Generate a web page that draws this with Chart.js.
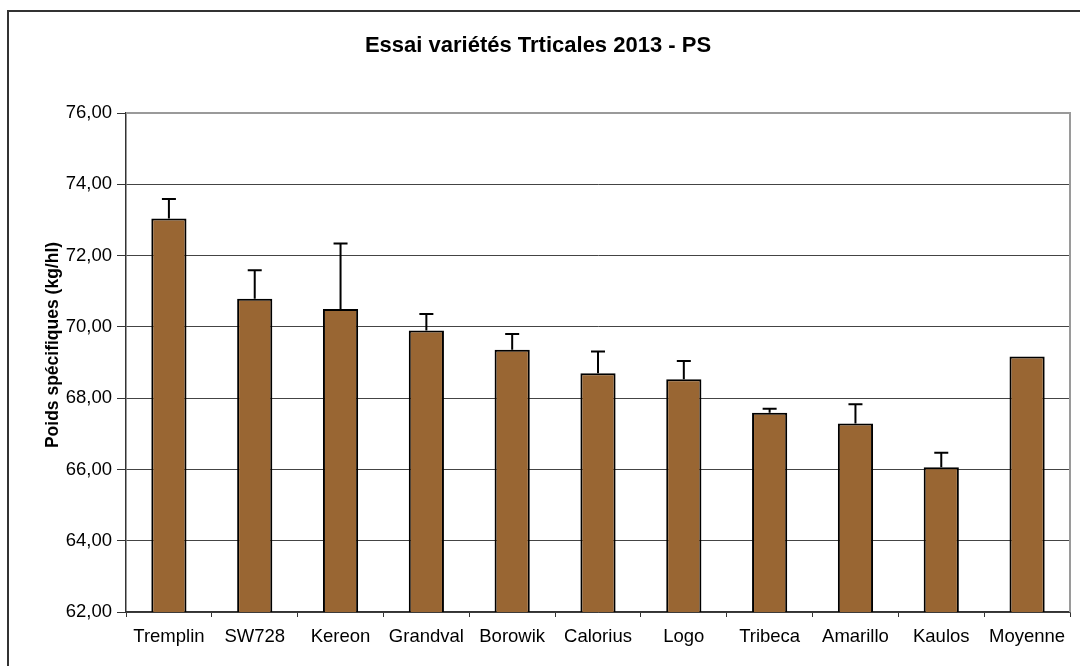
<!DOCTYPE html>
<html>
<head>
<meta charset="utf-8">
<script src="https://cdn.jsdelivr.net/npm/chart.js@4.4.1/dist/chart.umd.min.js"></script>
<style>
  html, body { margin: 0; padding: 0; background: #fff; }
  canvas { display: block; }
</style>
</head>
<body>
<canvas id="psChart" width="1080" height="666"></canvas>
<script>
// values
const categories = ['Tremplin', 'SW728', 'Kereon', 'Grandval', 'Borowik', 'Calorius', 'Logo', 'Tribeca', 'Amarillo', 'Kaulos', 'Moyenne'];
const psValues = [73.04, 70.79, 70.50, 69.90, 69.36, 68.70, 68.53, 67.59, 67.29, 66.06, 69.17];
const psErrors = [0.55, 0.80, 1.84, 0.46, 0.44, 0.61, 0.51, 0.11, 0.54, 0.41, null];
const yMin = 62, yMax = 76, yStep = 2;

const chartTitle = 'Essai variétés Trticales 2013 - PS';
const yTitle = 'Poids spécifiques (kg/hl)';
const FONT = "'Liberation Sans', Arial, sans-serif";

// frame, titles and plot border
const decorPlugin = {
  id: 'decor',
  beforeDatasetsDraw(chart) {
    const { ctx, chartArea: a } = chart;
    ctx.save();
    ctx.strokeStyle = '#9a9a9a';
    ctx.lineWidth = 2;
    ctx.beginPath();
    ctx.moveTo(a.left, a.top);
    ctx.lineTo(a.right, a.top);
    ctx.lineTo(a.right, a.bottom);
    ctx.stroke();
    ctx.restore();
  },
  afterDraw(chart) {
    const { ctx } = chart;
    ctx.save();
    ctx.strokeStyle = '#333';
    ctx.lineWidth = 2;
    ctx.strokeRect(8, 11, 1200, 1000);

    ctx.fillStyle = '#000';
    ctx.font = 'bold 22px ' + FONT;
    ctx.textAlign = 'center';
    ctx.textBaseline = 'alphabetic';
    ctx.fillText(chartTitle, 538, 52);

    ctx.translate(58, 345);
    ctx.rotate(-Math.PI / 2);
    ctx.font = 'bold 17.5px ' + FONT;
    ctx.fillText(yTitle, 0, 0);
    ctx.restore();
  }
};

// upward error bars
const errorBarPlugin = {
  id: 'errorBars',
  afterDatasetsDraw(chart) {
    const { ctx } = chart;
    const y = chart.scales.y;
    const meta = chart.getDatasetMeta(0);
    ctx.save();
    ctx.strokeStyle = '#000';
    ctx.lineWidth = 2;
    meta.data.forEach((bar, i) => {
      if (psErrors[i] == null) return;
      const yTop = y.getPixelForValue(psValues[i] + psErrors[i]);
      ctx.beginPath();
      ctx.moveTo(bar.x, bar.y);
      ctx.lineTo(bar.x, yTop);
      ctx.moveTo(bar.x - 7, yTop);
      ctx.lineTo(bar.x + 7, yTop);
      ctx.stroke();
    });
    ctx.restore();
  }
};

const ctx = document.getElementById('psChart').getContext('2d');
new Chart(ctx, {
  type: 'bar',
  data: {
    labels: categories,
    datasets: [{
      data: psValues,
      backgroundColor: '#996633',
      borderColor: '#000',
      borderWidth: 2,
      borderSkipped: 'bottom',
      categoryPercentage: 1,
      barPercentage: 0.41
    }]
  },
  options: {
    responsive: false,
    animation: false,
    layout: { padding: { top: 113, right: 10, left: 0, bottom: 0 } },
    plugins: { legend: { display: false }, title: { display: false }, tooltip: { enabled: false } },
    scales: {
      x: {
        afterFit: s => { s.height = 54; },
        grid: { drawOnChartArea: false, drawTicks: true, tickLength: 5, color: '#333', offset: true },
        border: { color: '#333', width: 1.5 },
        ticks: { color: '#000', padding: 9, font: { family: FONT, size: 18.5 } }
      },
      y: {
        min: yMin,
        max: yMax,
        afterFit: s => { s.width = 126; },
        grid: {
          color: c => (c.tick && c.tick.value === yMax ? 'rgba(0,0,0,0)' : '#444'),
          tickColor: '#333',
          tickLength: 9,
          lineWidth: 1
        },
        border: { color: '#333', width: 1.5 },
        ticks: {
          stepSize: yStep,
          color: '#000',
          padding: 5,
          font: { family: FONT, size: 18.5 },
          callback: v => v.toFixed(2).replace('.', ',')
        }
      }
    }
  },
  plugins: [decorPlugin, errorBarPlugin]
});
</script>
</body>
</html>
